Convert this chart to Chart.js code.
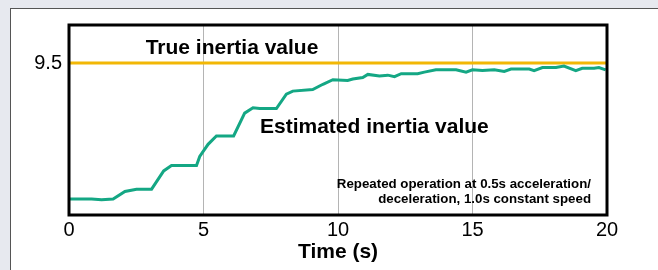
<!DOCTYPE html>
<html>
<head>
<meta charset="utf-8">
<script src="https://cdn.jsdelivr.net/npm/chart.js@4"></script>
<style>
  html, body { margin: 0; padding: 0; width: 658px; height: 270px; overflow: hidden; background: #e7e9ef; }
  #panel { position: absolute; left: 10px; top: 8px; width: 700px; height: 300px; background: #fff; border: 1px solid #555; }
  #c { position: absolute; left: 0; top: 0; }
</style>
</head>
<body>
<div id="panel"></div>
<canvas id="c" width="658" height="270"></canvas>
<script>
// time (s) and estimated inertia
const timeS = [0, 0.84, 1.21, 1.64, 2.08, 2.51, 3.07, 3.52, 3.81, 4.74, 4.86, 5.17, 5.48, 6.12,
  6.53, 6.84, 7.09, 7.71, 8.08, 8.32, 9.06, 9.44, 9.81, 10.36, 10.55, 10.92, 11.11, 11.54,
  11.85, 12.10, 12.35, 12.96, 13.21, 13.64, 14.39, 14.76, 15.00, 15.37, 15.81, 16.18, 16.43,
  17.11, 17.29, 17.60, 18.10, 18.40, 18.84, 19.08, 19.52, 19.70, 19.95];
const inertiaEst = [7.71, 7.71, 7.70, 7.71, 7.81, 7.84, 7.84, 8.08, 8.15, 8.15, 8.27, 8.43, 8.54, 8.54,
  8.84, 8.91, 8.90, 8.90, 9.09, 9.13, 9.15, 9.22, 9.28, 9.27, 9.29, 9.31, 9.35, 9.33,
  9.34, 9.32, 9.36, 9.36, 9.38, 9.41, 9.41, 9.38, 9.41, 9.40, 9.41, 9.39, 9.42,
  9.42, 9.40, 9.44, 9.44, 9.46, 9.40, 9.43, 9.43, 9.44, 9.41];
const trueTime = [0, 20];
const trueInertia = [9.5, 9.5];
const xTicks = [0, 5, 10, 15, 20];
const yTicks = [9.5];

const labelTrue = 'True inertia value';
const labelEst = 'Estimated inertia value';
const noteLines = ['Repeated operation at 0.5s acceleration/', 'deceleration, 1.0s constant speed'];

const FONT = '"Liberation Sans", Arial, sans-serif';

// frame + text annotations
const decor = {
  id: 'decor',
  afterDatasetsDraw(chart) {
    const { ctx, chartArea: a } = chart;
    ctx.save();
    ctx.fillStyle = '#000';
    ctx.textBaseline = 'middle';
    ctx.font = 'bold 21px ' + FONT;
    ctx.textAlign = 'center';
    ctx.fillText(labelTrue, a.left + 163, a.top + 23);
    ctx.textAlign = 'left';
    ctx.fillText(labelEst, a.left + 191, a.top + 102);
    ctx.font = 'bold 13.3px ' + FONT;
    ctx.textAlign = 'right';
    ctx.fillText(noteLines[0], a.right - 16, a.bottom - 31);
    ctx.fillText(noteLines[1], a.right - 16, a.bottom - 16);
    // frame
    ctx.strokeStyle = '#000';
    ctx.lineWidth = 3;
    ctx.strokeRect(a.left, a.top, a.right - a.left, a.bottom - a.top);
    ctx.restore();
  }
};

new Chart(document.getElementById('c'), {
  type: 'line',
  data: {
    datasets: [
      {
        data: timeS.map((t, i) => ({ x: t, y: inertiaEst[i] })),
        borderColor: '#14a784',
        borderWidth: 3,
        pointRadius: 0,
        tension: 0
      },
      {
        data: trueTime.map((t, i) => ({ x: t, y: trueInertia[i] })),
        borderColor: '#f2b705',
        borderWidth: 3,
        pointRadius: 0
      }
    ]
  },
  options: {
    responsive: false,
    animation: false,
    layout: { padding: { left: 0, top: 25, right: 51, bottom: 0 } },
    plugins: { legend: { display: false }, tooltip: { enabled: false } },
    scales: {
      x: {
        type: 'linear',
        min: 0, max: 20,
        afterBuildTicks: s => { s.ticks = xTicks.map(v => ({ value: v })); },
        afterFit: s => { s.height = 55; },
        border: { display: false },
        grid: {
          drawTicks: false,
          color: c => (c.tick.value > 0 && c.tick.value < 20) ? '#b4b4b4' : 'transparent',
          lineWidth: 1
        },
        ticks: { padding: 3, color: '#000', font: { family: FONT, size: 20 }, callback: v => String(v) },
        title: {
          display: true, text: 'Time (s)', color: '#000',
          font: { family: FONT, size: 21, weight: 'bold' },
          padding: { top: 0, bottom: 5 }
        }
      },
      y: {
        min: 7.5, max: 10,
        afterBuildTicks: s => { s.ticks = yTicks.map(v => ({ value: v })); },
        afterFit: s => { s.width = 69; },
        border: { display: false },
        grid: { display: false, drawTicks: false },
        ticks: { padding: 7, color: '#000', font: { family: FONT, size: 20 }, callback: v => String(v) }
      }
    }
  },
  plugins: [decor]
});
</script>
</body>
</html>
